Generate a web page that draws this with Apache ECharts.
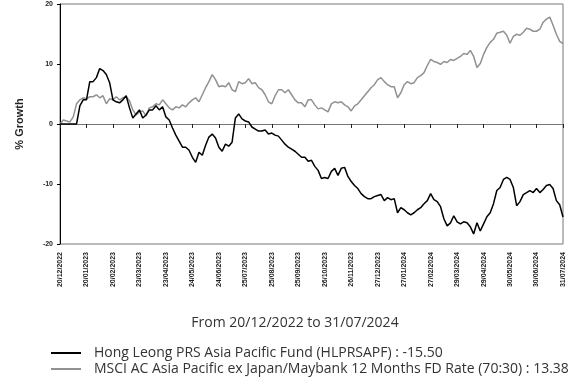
<!DOCTYPE html>
<html>
<head>
<meta charset="utf-8">
<script src="https://cdn.jsdelivr.net/npm/echarts@6/dist/echarts.min.js"></script>
<style>
  html, body { margin: 0; padding: 0; background: #fff; }
  #chart { width: 570px; height: 385px; }
</style>
</head>
<body>
<div id="chart"></div>
<script>
// Date labels shown on the x axis (one every 8 observations)
const tickLabels = [
  '20/12/2022', '20/01/2023', '20/02/2023', '23/03/2023', '23/04/2023',
  '24/05/2023', '24/06/2023', '25/07/2023', '25/08/2023', '25/09/2023',
  '26/10/2023', '26/11/2023', '27/12/2023', '27/01/2024', '27/02/2024',
  '29/03/2024', '29/04/2024', '30/05/2024', '30/06/2024', '31/07/2024'
];
const stepsPerTick = 8;

// Cumulative % growth, Hong Leong PRS Asia Pacific Fund
const fundGrowth = [
  0, 0, 0, 0, 0, 0, 3.03, 4.03,
  4.03, 7.06, 7.06, 7.73, 9.24, 8.91, 8.24, 6.89,
  4.03, 3.70, 3.53, 4.03, 4.71, 2.69, 1.01, 1.68,
  2.35, 1.01, 1.51, 2.35, 2.35, 3.03, 2.35, 2.86,
  1.18, 0.67, -0.67, -1.85, -2.86, -3.87, -3.87, -4.37,
  -5.55, -6.39, -4.71, -5.21, -3.53, -2.18, -1.68, -2.35,
  -3.87, -4.54, -3.36, -3.70, -3.03, 1.01, 1.68, 0.84,
  0.50, 0.34, -0.50, -0.84, -1.18, -1.18, -1.01, -1.68,
  -1.51, -1.85, -2.02, -2.69, -3.36, -3.87, -4.20, -4.54,
  -5.04, -5.55, -5.55, -6.22, -6.05, -7.06, -7.73, -9.08,
  -8.91, -9.08, -7.90, -7.39, -8.57, -7.39, -7.23, -8.74,
  -9.58, -10.25, -10.76, -11.60, -12.10, -12.44, -12.44, -12.10,
  -11.93, -11.76, -12.77, -12.27, -12.61, -12.44, -14.79, -13.95,
  -14.29, -14.79, -15.13, -14.79, -14.29, -13.95, -13.28, -12.77,
  -11.60, -12.61, -12.94, -13.78, -15.80, -16.97, -16.47, -15.29,
  -16.30, -16.64, -16.30, -16.47, -17.14, -18.32, -16.47, -17.82,
  -16.64, -15.46, -14.79, -13.28, -11.09, -10.59, -9.24, -8.91,
  -9.24, -10.59, -13.61, -12.94, -11.76, -11.43, -11.09, -11.43,
  -10.76, -11.43, -10.92, -10.25, -10.08, -10.76, -12.77, -13.45,
  -15.50
];

// Cumulative % growth, MSCI AC Asia Pacific ex Japan / Maybank 12M FD (70:30)
const benchmarkGrowth = [
  0, 0.67, 0.50, 0.34, 1.18, 3.36, 4.03, 4.37,
  4.20, 4.54, 4.54, 4.87, 4.37, 4.71, 3.36, 4.20,
  4.03, 4.54, 4.03, 4.37, 4.54, 3.87, 2.35, 1.51,
  2.02, 2.18, 1.34, 2.69, 2.86, 3.36, 3.19, 4.03,
  3.36, 2.69, 2.35, 2.86, 2.69, 3.19, 2.86, 3.53,
  4.03, 4.37, 3.70, 4.87, 6.05, 7.06, 8.24, 7.39,
  6.22, 6.39, 6.22, 6.89, 5.71, 5.38, 7.06, 6.72,
  6.89, 7.56, 6.72, 6.89, 6.05, 5.71, 4.87, 3.70,
  3.36, 4.71, 5.71, 5.71, 5.21, 5.71, 4.87, 4.03,
  3.53, 3.53, 2.86, 4.03, 4.03, 3.19, 2.52, 2.69,
  2.35, 2.02, 3.36, 3.70, 3.53, 3.70, 3.19, 2.86,
  2.18, 3.03, 3.36, 4.03, 4.71, 5.38, 6.05, 6.55,
  7.39, 7.73, 7.06, 6.55, 6.22, 6.22, 4.37, 5.21,
  6.55, 7.06, 6.72, 6.89, 7.73, 8.07, 8.57, 9.75,
  10.76, 10.42, 10.25, 9.92, 10.42, 10.25, 10.76, 10.59,
  10.92, 11.26, 11.76, 11.60, 12.27, 11.26, 9.41, 10.08,
  11.60, 12.77, 13.61, 14.12, 15.13, 15.29, 15.46, 14.79,
  13.45, 14.62, 14.96, 14.79, 15.29, 15.97, 15.80, 15.46,
  15.46, 15.80, 16.97, 17.48, 17.82, 16.47, 14.96, 13.78,
  13.38
];

const fundName = 'Hong Leong PRS Asia Pacific Fund (HLPRSAPF) : -15.50';
const benchName = 'MSCI AC Asia Pacific ex Japan/Maybank 12 Months FD Rate (70:30) : 13.38';
const periodText = 'From 20/12/2022 to 31/07/2024';

const categories = fundGrowth.map((_, i) => i);

const chart = echarts.init(document.getElementById('chart'), null, { renderer: 'canvas' });

chart.setOption({
  animation: false,
  backgroundColor: '#ffffff',
  title: {
    text: periodText,
    left: 290,
    top: 311,
    textAlign: 'center',
    textStyle: { fontFamily: 'Open Sans', fontSize: 14, fontWeight: 'normal', color: '#333' }
  },
  legend: {
    orient: 'vertical',
    left: 46,
    top: 340,
    itemWidth: 30,
    itemHeight: 2,
    itemGap: 0,
    icon: 'rect',
    selectedMode: false,
    textStyle: { fontFamily: 'Open Sans', fontSize: 14, lineHeight: 16, color: '#333', padding: [0, 0, 0, 8] },
    data: [fundName, benchName]
  },
  grid: {
    left: 60,
    right: 7,
    top: 4,
    height: 240,
    show: true,
    borderColor: '#777',
    borderWidth: 1
  },
  xAxis: {
    type: 'category',
    data: categories,
    boundaryGap: false,
    axisLine: { lineStyle: { color: '#777', width: 1 } },
    axisTick: { interval: stepsPerTick - 1, length: 4, lineStyle: { color: '#222' } },
    axisLabel: {
      interval: stepsPerTick - 1,
      rotate: 90,
      margin: 8,
      fontFamily: 'Liberation Sans',
      fontSize: 7,
      fontWeight: 'bold',
      color: '#222',
      formatter: (v, idx) => tickLabels[Math.round(idx / stepsPerTick)] || ''
    },
    splitLine: { show: false }
  },
  yAxis: {
    type: 'value',
    min: -20,
    max: 20,
    interval: 10,
    name: '% Growth',
    nameLocation: 'middle',
    nameGap: 35,
    nameTextStyle: { fontFamily: 'Liberation Sans', fontSize: 11, fontWeight: 'bold', color: '#222' },
    axisLine: { show: true, lineStyle: { color: '#000', width: 1 } },
    axisTick: { show: true, length: 3, lineStyle: { color: '#000' } },
    axisLabel: { fontFamily: 'Liberation Sans', fontSize: 7, fontWeight: 'bold', color: '#222', margin: 7 },
    splitLine: { show: false }
  },
  series: [
    {
      name: fundName,
      type: 'line',
      data: fundGrowth,
      showSymbol: false,
      color: '#000',
      lineStyle: { color: '#000', width: 1.5 },
      z: 3
    },
    {
      name: benchName,
      type: 'line',
      data: benchmarkGrowth,
      showSymbol: false,
      color: '#919191',
      lineStyle: { color: '#919191', width: 1.5 },
      z: 2
    }
  ]
});
</script>
</body>
</html>
